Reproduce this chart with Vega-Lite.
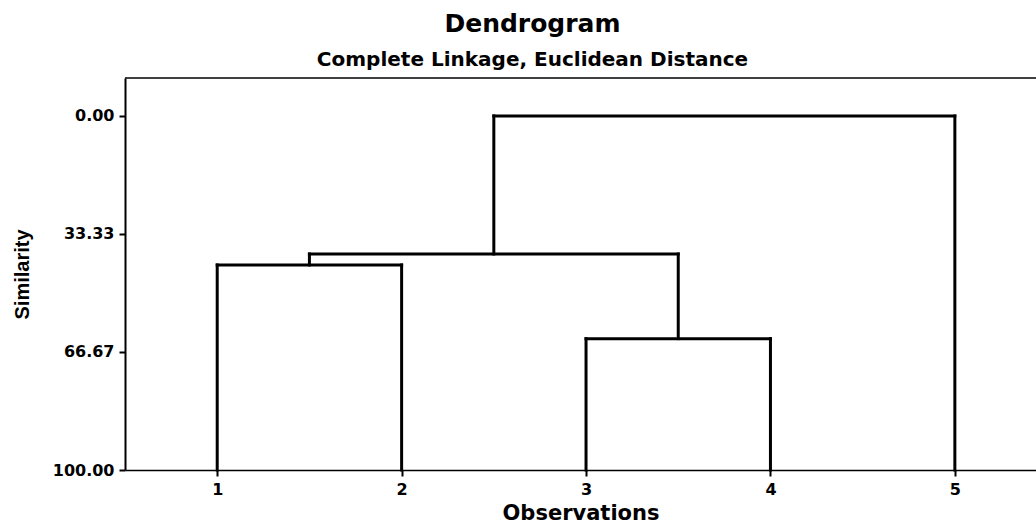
{
  "$schema": "https://vega.github.io/schema/vega-lite/v6.json",
  "autosize": {"type": "none"},
  "padding": {"left": 125, "top": 78, "right": 0, "bottom": 57},
  "width": 911,
  "height": 392,
  "background": "white",
  "config": {"view": {"stroke": null}},
  "title": {
    "text": "Dendrogram",
    "subtitle": "Complete Linkage, Euclidean Distance",
    "anchor": "middle",
    "frame": "group",
    "dx": -48,
    "font": "DejaVu Sans",
    "fontSize": 25,
    "fontWeight": "bold",
    "color": "black",
    "subtitleFont": "DejaVu Sans",
    "subtitleFontSize": 20,
    "subtitleFontWeight": "bold",
    "subtitleColor": "black",
    "subtitlePadding": 13,
    "offset": 7
  },
  "datasets": {
    "segments": [
      {"x": 1, "x2": 1, "y": 100, "y2": 42.1},
      {"x": 2, "x2": 2, "y": 100, "y2": 42.1},
      {"x": 1, "x2": 2, "y": 42.1, "y2": 42.1},
      {"x": 3, "x2": 3, "y": 100, "y2": 62.9},
      {"x": 4, "x2": 4, "y": 100, "y2": 62.9},
      {"x": 3, "x2": 4, "y": 62.9, "y2": 62.9},
      {"x": 1.5, "x2": 1.5, "y": 42.1, "y2": 39.0},
      {"x": 3.5, "x2": 3.5, "y": 62.9, "y2": 39.0},
      {"x": 1.5, "x2": 3.5, "y": 39.0, "y2": 39.0},
      {"x": 2.5, "x2": 2.5, "y": 39.0, "y2": 0},
      {"x": 5, "x2": 5, "y": 100, "y2": 0},
      {"x": 2.5, "x2": 5, "y": 0, "y2": 0}
    ]
  },
  "layer": [
    {
      "data": {"name": "segments"},
      "mark": {"type": "rule", "color": "black", "strokeWidth": 3, "strokeCap": "square"},
      "encoding": {
        "x": {
          "field": "x",
          "type": "quantitative",
          "scale": {"domain": [0.5, 5.44], "nice": false, "zero": false},
          "axis": {
            "values": [1, 2, 3, 4, 5],
            "format": "d",
            "grid": false,
            "domainColor": "black",
            "domainWidth": 1.5,
            "tickColor": "black",
            "tickWidth": 2,
            "tickSize": 6,
            "labelFont": "DejaVu Sans",
            "labelFontSize": 16,
            "labelFontWeight": "bold",
            "labelColor": "black",
            "labelPadding": 5,
            "title": "Observations",
            "titleFont": "DejaVu Sans",
            "titleFontSize": 21,
            "titleFontWeight": "bold",
            "titleColor": "black",
            "titlePadding": 5
          }
        },
        "x2": {"field": "x2"},
        "y": {
          "field": "y",
          "type": "quantitative",
          "scale": {"domain": [-10.7, 100], "nice": false, "zero": false, "reverse": true},
          "axis": {
            "values": [0, 33.33, 66.67, 100],
            "format": ".2f",
            "grid": false,
            "domainColor": "black",
            "domainWidth": 2,
            "tickColor": "black",
            "tickWidth": 2,
            "tickSize": 6,
            "labelFont": "DejaVu Sans",
            "labelFontSize": 16,
            "labelFontWeight": "bold",
            "labelColor": "black",
            "labelPadding": 5,
            "title": "Similarity",
            "titleFont": "Liberation Sans",
            "titleFontSize": 20,
            "titleFontWeight": "bold",
            "titleColor": "black",
            "titleAngle": 270,
            "titleAlign": "center",
            "titleBaseline": "middle",
            "titleX": -103,
            "titleY": 196
          }
        },
        "y2": {"field": "y2"}
      }
    },
    {
      "data": {"values": [{}]},
      "mark": {"type": "rule", "color": "black", "strokeWidth": 1.5},
      "encoding": {"y": {"datum": -10.7, "type": "quantitative"}}
    }
  ]
}
